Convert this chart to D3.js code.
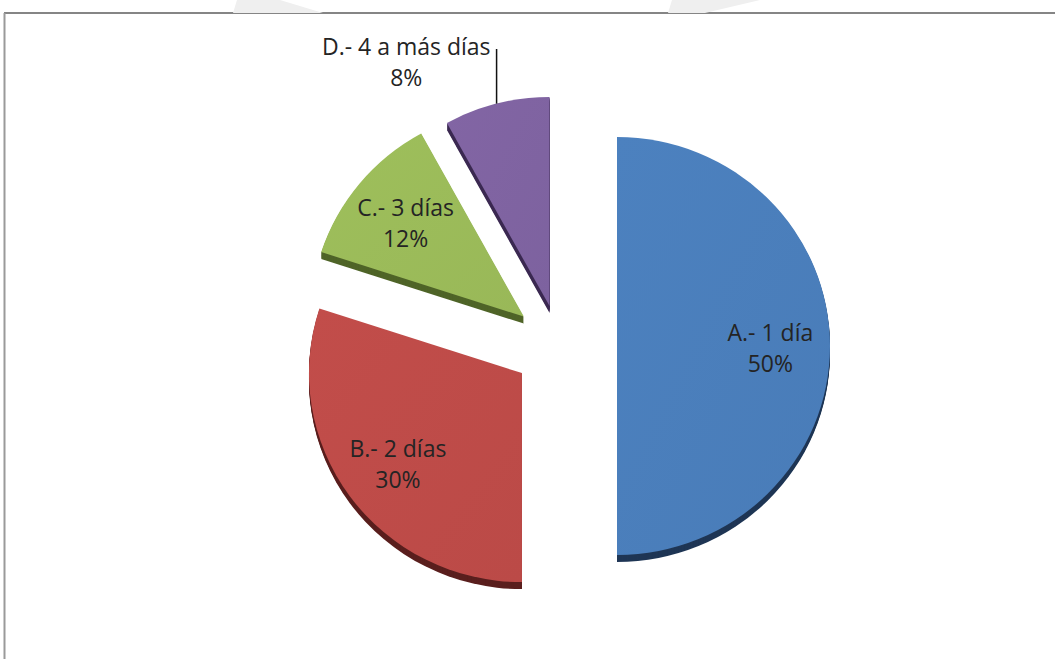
<!DOCTYPE html>
<html>
<head>
<meta charset="utf-8">
<script src="https://cdn.jsdelivr.net/npm/d3@7"></script>
<style>
  html, body { margin: 0; padding: 0; background: #ffffff; }
  svg { display: block; }
  text { font-family: "Open Sans", Lato, sans-serif; fill: #242424; }
</style>
</head>
<body>
<svg id="chart" width="1055" height="659"></svg>
<script>
// Days of absence, share of respondents
const categories = ["A.- 1 día", "B.- 2 días", "C.- 3 días", "D.- 4 a más días"];
const values = [50, 30, 12, 8];

// Slice styling: top face, side face, explode distance
const topColors  = ["#4A7EBB", "#BE4B48", "#9BBB59", "#7F63A1"];
const sideColors = ["#1F3655", "#5A1F1E", "#4F6428", "#3C2A52"];
const explode    = [57, 47, 47, 42];

const W = 1055, H = 659;
const cx = 560, cy = 346;      // pie centre before explosion
const R = 213;                 // horizontal radius
const sy = 209 / 213;          // vertical squash of the tilted pie
const depth = 7;               // thickness of the pie
const labelRatio = 0.72;
const fontSize = 23;
const lineGap = 31;

const svg = d3.select("#chart");

// frame lines
svg.append("line").attr("x1", 4).attr("x2", W).attr("y1", 13).attr("y2", 13)
  .attr("stroke", "#858585").attr("stroke-width", 2);
svg.append("line").attr("x1", 4.5).attr("x2", 4.5).attr("y1", 13).attr("y2", H)
  .attr("stroke", "#9a9a9a").attr("stroke-width", 2);

// faint background mark above the frame
svg.append("polygon").attr("points", "237,0 280,0 323,13 233,13").attr("fill", "#efefef");
svg.append("polygon").attr("points", "672,0 760,0 705,13 668,13").attr("fill", "#efefef");

const pie = d3.pie().sort(null).value(d => d);
const arcs = pie(values);
const arc = d3.arc().innerRadius(0).outerRadius(R);
const total = d3.sum(values);
const pct = v => Math.round(v / total * 100) + "%";

const slices = svg.append("g").selectAll("g.slice")
  .data(arcs)
  .join("g")
  .attr("class", "slice")
  .attr("transform", (d, i) => {
    const m = (d.startAngle + d.endAngle) / 2;
    const x = cx + Math.sin(m) * explode[i];
    const y = cy - Math.cos(m) * explode[i] * sy;
    return `translate(${x},${y})`;
  });

// side face: stacked copies pushed down
slices.each(function (d, i) {
  const g = d3.select(this);
  for (let k = depth; k >= 1; k--) {
    g.append("path")
      .attr("d", arc(d))
      .attr("transform", `translate(0,${k}) scale(1,${sy})`)
      .attr("fill", sideColors[i]);
  }
});

// top face with a soft light
const defs = svg.append("defs");
topColors.forEach((c, i) => {
  const gr = defs.append("linearGradient").attr("id", "g" + i)
    .attr("x1", "0").attr("y1", "0").attr("x2", "1").attr("y2", "1");
  gr.append("stop").attr("offset", "0").attr("stop-color", d3.color(c).brighter(0.06));
  gr.append("stop").attr("offset", "1").attr("stop-color", d3.color(c).darker(0.04));
});

slices.append("path")
  .attr("d", d => arc(d))
  .attr("transform", `scale(1,${sy})`)
  .attr("fill", (d, i) => `url(#g${i})`);

// labels inside the three larger slices
const labelArc = d3.arc().innerRadius(R * labelRatio).outerRadius(R * labelRatio);

slices.each(function (d, i) {
  if (i >= 3) return;
  const g = d3.select(this);
  const [lx, ly0] = labelArc.centroid(d);
  const ly = ly0 * sy + 3;
  g.append("text").attr("x", lx).attr("y", ly - 8)
    .attr("text-anchor", "middle").attr("font-size", fontSize)
    .text(categories[i]);
  g.append("text").attr("x", lx).attr("y", ly - 8 + lineGap)
    .attr("text-anchor", "middle").attr("font-size", fontSize)
    .text(pct(d.value));
});

// outside label with leader for the smallest slice
{
  const i = 3, d = arcs[i];
  const m = (d.startAngle + d.endAngle) / 2;
  const ox = cx + Math.sin(m) * explode[i];
  const oy = cy - Math.cos(m) * explode[i] * sy;
  const px = ox + Math.sin(m) * R;
  const py = oy - Math.cos(m) * R * sy;
  const topY = 49;
  svg.append("line").attr("x1", px).attr("y1", py).attr("x2", px).attr("y2", topY)
    .attr("stroke", "#111").attr("stroke-width", 1.5);
  const t1 = svg.append("text").attr("y", 55).attr("text-anchor", "middle")
    .attr("font-size", fontSize).text(categories[i]);
  const w = t1.node().getComputedTextLength();
  const tx = px - 6 - w / 2;
  t1.attr("x", tx);
  svg.append("text").attr("x", tx).attr("y", 55 + lineGap).attr("text-anchor", "middle")
    .attr("font-size", fontSize).text(pct(d.value));
}
</script>
</body>
</html>
